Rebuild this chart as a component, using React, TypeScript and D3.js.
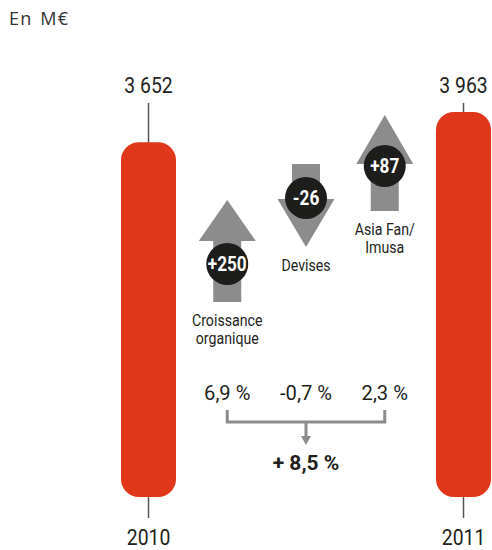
import React from 'react'
import { formatLocale, line, max, scaleLinear, scalePoint } from 'd3'

// totals
const YEARS = ['2010', '2011']
const TOTALS = [3652, 3963]

// bridge steps between the two years
const STEP_NAMES = [['Croissance', 'organique'], ['Devises'], ['Asia Fan/', 'Imusa']]
const STEP_VALUES = [250, -26, 87]
const STEP_RATES = [6.9, -0.7, 2.3]
const TOTAL_RATE = 8.5

const UNIT = 'En M€'

// arrow drawing (not data): tail / tip / head length / badge centre, in px
const ARROW_LAYOUT = [
  { tail: 302, tip: 200, head: 41, cy: 264 },
  { tail: 164, tip: 247, head: 48, cy: 198 },
  { tail: 211, tip: 115, head: 49, cy: 166 },
]

const W = 492
const H = 550
const RED = '#e0361a'
const GREY = '#8c8c8c'
const INK = '#231f20'
const FONT = "Roboto, 'Liberation Sans', sans-serif"

const fr = formatLocale({ decimal: ',', thousands: ' ', grouping: [3], currency: ['', ' €'], minus: '-' })
const fmtTotal = fr.format(',d')
const fmtRate = (v: number) => fr.format('.1f')(v) + ' %'
const fmtStep = (v: number) => (v > 0 ? '+' + v : String(v))

const CondText = ({ x, y, size, sx = 0.88, weight = 400, fill = INK, children }: any) => (
  <g transform={`translate(${x},${y}) scale(${sx},1)`}>
    <text textAnchor="middle" fontFamily={FONT} fontSize={size} fontWeight={weight} fill={fill}>
      {children}
    </text>
  </g>
)

const App = () => {
  const slots = [YEARS[0], ...STEP_NAMES.map((n) => n.join(' ')), YEARS[1]]
  const x = scalePoint().domain(slots).range([148.5, 463.5])
  const y = scaleLinear().domain([0, max(TOTALS) as number]).range([497, 112])
  const barW = 55

  const arrowPath = (cx: number, a: { tail: number; tip: number; head: number }) => {
    const s = Math.sign(a.tail - a.tip)
    const base = a.tip + s * a.head
    const pts: [number, number][] = [
      [cx - 14, a.tail], [cx - 14, base], [cx - 28.5, base], [cx, a.tip],
      [cx + 28.5, base], [cx + 14, base], [cx + 14, a.tail],
    ]
    return line()(pts) + 'Z'
  }

  const stepX = STEP_NAMES.map((n) => x(n.join(' ')) as number)
  const midX = x(slots[2]) as number

  return (
    <svg width={W} height={H} style={{ position: 'absolute', left: 0, top: 0, background: '#fff' }}>
      <text x={9} y={25} fontFamily="'Open Sans', Lato, sans-serif" fontSize={18} fill="#333"
        letterSpacing={1.2} wordSpacing={2}>
        {UNIT}
      </text>

      {YEARS.map((yr, i) => {
        const cx = x(yr) as number
        return (
          <g key={yr}>
            <line x1={cx} x2={cx} y1={103} y2={y(TOTALS[i]) + 2} stroke="#555" strokeWidth={1.5} />
            <line x1={cx} x2={cx} y1={y(0) - 2} y2={518} stroke="#555" strokeWidth={1.5} />
            <rect x={cx - barW / 2} y={y(TOTALS[i])} width={barW} height={y(0) - y(TOTALS[i])} rx={18} fill={RED} />
            <CondText x={cx} y={93} size={22}>{fmtTotal(TOTALS[i])}</CondText>
            <CondText x={cx} y={545} size={22}>{yr}</CondText>
          </g>
        )
      })}

      {STEP_VALUES.map((v, i) => {
        const cx = stepX[i]
        const a = ARROW_LAYOUT[i]
        const labelY = Math.max(a.tail, a.tip) + 24
        return (
          <g key={i}>
            <path d={arrowPath(cx, a)} fill={GREY} />
            <circle cx={cx} cy={a.cy} r={21} fill="#1d1d1b" />
            <CondText x={cx} y={a.cy + 7} size={20} weight={700} fill="#fff" sx={0.86}>{fmtStep(v)}</CondText>
            {STEP_NAMES[i].map((t, j) => (
              <CondText key={t} x={cx} y={labelY + j * 18} size={16.5} sx={0.86}>{t}</CondText>
            ))}
            <CondText x={cx} y={400} size={21} sx={0.96}>{fmtRate(STEP_RATES[i])}</CondText>
          </g>
        )
      })}

      <path
        d={`M${stepX[0]},410 V422 H${stepX[2]} V410 M${midX},422 V437`}
        fill="none" stroke={GREY} strokeWidth={3}
      />
      <path d={`M${midX - 5},436 H${midX + 5} L${midX},445 Z`} fill={GREY} />
      <CondText x={midX} y={470} size={21} weight={700} sx={1}>{'+ ' + fmtRate(TOTAL_RATE)}</CondText>
    </svg>
  )
}

export default App
